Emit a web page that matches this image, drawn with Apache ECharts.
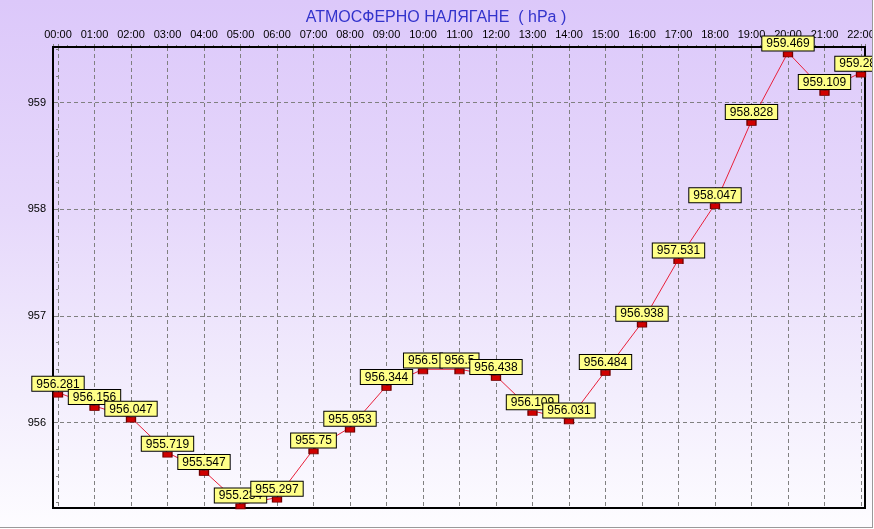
<!DOCTYPE html>
<html>
<head>
<meta charset="utf-8">
<script src="https://cdn.jsdelivr.net/npm/echarts@6/dist/echarts.min.js"></script>
<style>
  html, body { margin: 0; padding: 0; background: #fff; }
  #chart {
    width: 872px;
    height: 527px;
    border-right: 1px solid #9a9a9a;
    border-bottom: 1px solid #9a9a9a;
    background: linear-gradient(to bottom, #dcc8fa 0%, #e6d8fb 40%, #f3eefd 75%, #fdfcff 100%);
  }
</style>
</head>
<body>
<div id="chart"></div>
<script>
// hours shown on the top axis
const hours = ['00:00', '01:00', '02:00', '03:00', '04:00', '05:00', '06:00', '07:00',
  '08:00', '09:00', '10:00', '11:00', '12:00', '13:00', '14:00', '15:00',
  '16:00', '17:00', '18:00', '19:00', '20:00', '21:00', '22:00'];

// atmospheric pressure, hPa
const pressure = [956.281, 956.156, 956.047, 955.719, 955.547, 955.234, 955.297, 955.75,
  955.953, 956.344, 956.5, 956.5, 956.438, 956.109, 956.031, 956.484,
  956.938, 957.531, 958.047, 958.828, 959.469, 959.109, 959.281];

const chart = echarts.init(document.getElementById('chart'));

const font = 'Arial, "Liberation Sans", sans-serif';
const dash = { color: '#808080', type: [4, 3], width: 1 };

const option = {
  backgroundColor: 'transparent',
  animation: false,
  title: {
    text: 'АТМОСФЕРНО НАЛЯГАНЕ  ( hPa )',
    left: 'center',
    top: 5,
    textStyle: {
      color: '#3333cc',
      fontSize: 16,
      fontWeight: 'normal',
      fontFamily: font,
    },
  },
  grid: {
    left: 53,
    top: 47,
    width: 812,
    height: 461,
    outerBoundsMode: 'none',
    containLabel: false,
    show: true,
    borderColor: '#000',
    borderWidth: 2,
    backgroundColor: 'transparent',
    z: 3,
  },
  xAxis: {
    type: 'value',
    position: 'top',
    min: -0.137,
    max: 22.11,
    minInterval: 1,
    maxInterval: 1,
    axisLine: { show: false },
    axisTick: {
      show: true,
      length: 5,
      lineStyle: { color: '#808080', type: [3, 2] },
    },
    minorTick: {
      show: true,
      splitNumber: 4,
      length: 2,
      lineStyle: { color: '#808080' },
    },
    axisLabel: {
      showMinLabel: false,
      showMaxLabel: false,
      color: '#000',
      fontSize: 11,
      fontFamily: font,
      margin: 7,
      formatter: (v) => hours[Math.round(v)] || '',
    },
    splitLine: { show: true, lineStyle: dash },
  },
  yAxis: {
    type: 'value',
    min: 955.2,
    max: 959.52,
    minInterval: 1,
    maxInterval: 1,
    axisLine: { show: false },
    axisTick: {
      show: true,
      length: 5,
      lineStyle: { color: '#808080' },
    },
    minorTick: {
      show: true,
      splitNumber: 4,
      length: 2,
      lineStyle: { color: '#808080' },
    },
    axisLabel: {
      showMinLabel: false,
      showMaxLabel: false,
      color: '#000',
      fontSize: 11,
      fontFamily: font,
      margin: 7,
    },
    splitLine: { show: true, lineStyle: dash },
  },
  series: [
    {
      type: 'line',
      z: 4,
      data: pressure.map((p, i) => [i, p]),
      lineStyle: { color: '#e8203a', width: 1 },
      symbol: 'rect',
      symbolSize: [9, 5],
      symbolOffset: [0, 2],
      itemStyle: { color: '#d00000', borderColor: '#700000', borderWidth: 1 },
      label: {
        show: true,
        position: 'top',
        distance: 1,
        formatter: (p) => String(p.value[1]),
        color: '#000',
        fontSize: 12,
        fontFamily: font,
        lineHeight: 13,
        backgroundColor: '#ffff88',
        borderColor: '#000',
        borderWidth: 1,
        padding: [1, 4, 0, 4],
      },
    },
  ],
};

chart.setOption(option);
</script>
</body>
</html>
